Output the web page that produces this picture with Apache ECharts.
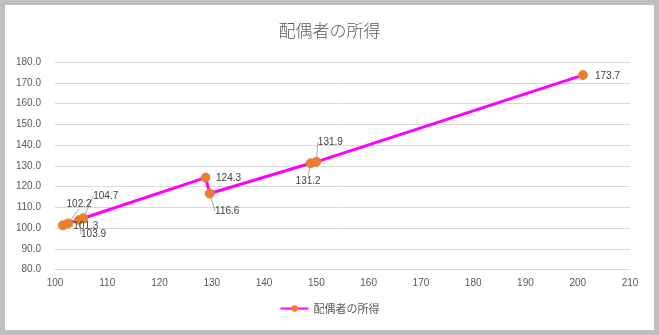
<!DOCTYPE html>
<html><head><meta charset="utf-8">
<script src="https://cdn.jsdelivr.net/npm/echarts@6/dist/echarts.min.js"></script>
<style>
html,body{margin:0;padding:0;background:#bfbfbf;}
#wrap{position:absolute;left:5px;top:5px;width:649px;height:325px;background:#fff;}
#c{position:absolute;left:-5px;top:-5px;width:659px;height:335px;}
</style></head>
<body><div id="wrap"><div id="c"></div></div>
<script>
const titleText = '配偶者の所得';
const seriesName = '配偶者の所得';
const xValues = [101.5, 102.5, 104.6, 105.4, 128.8, 129.6, 148.9, 150.0, 201.0];
const yValues = [101.3, 102.2, 103.9, 104.7, 124.3, 116.6, 131.2, 131.9, 173.7];
const xTicks = {min: 100, max: 210, interval: 10};
const yTicks = {min: 80, max: 180, interval: 10};
// label centre offsets (dx, dy) from the point, and whether a leader line is drawn
const labelShift = [[23, 1], [11, -19.5], [14.5, 14], [22.5, -22], [23, 1], [17.5, 17.5], [-2.5, 17.5], [14, -20], [24.5, 1]];
const leader = [true, true, true, true, false, true, true, true, false];

const chart = echarts.init(document.getElementById('c'), null, {renderer:'canvas'});
const data = xValues.map((x, i) => ({
  value: [x, yValues[i]],
  labelLine: {show: leader[i]}
}));
chart.setOption({
  animation: false,
  title: {text: titleText, left: 'center', top: 17,
    textStyle: {fontFamily: 'Noto Sans CJK JP', fontSize: 17, fontWeight: 300, color: '#595959'}},
  grid: {left: 55, right: 29, top: 62, bottom: 65.5},
  legend: {bottom: 16, left: 'center', itemWidth: 28, itemHeight: 8, itemGap: 2,
    data: [seriesName],
    textStyle: {fontFamily: 'Noto Sans CJK JP', fontSize: 11, color: '#595959'}},
  xAxis: {type: 'value', min: xTicks.min, max: xTicks.max, interval: xTicks.interval,
    axisLine: {show: true, lineStyle: {color: '#d9d9d9'}}, axisTick: {show: false},
    splitLine: {show: false},
    axisLabel: {margin: 9, color: '#595959', fontSize: 10, fontFamily: 'Liberation Sans'}},
  yAxis: {type: 'value', min: yTicks.min, max: yTicks.max, interval: yTicks.interval,
    axisLine: {show: false}, axisTick: {show: false},
    splitLine: {lineStyle: {color: '#d9d9d9'}},
    axisLabel: {margin: 14, color: '#595959', fontSize: 10, fontFamily: 'Liberation Sans',
      formatter: v => v.toFixed(1)}},
  series: [{
    name: seriesName, type: 'line', data: data,
    symbol: 'circle', symbolSize: 9,
    lineStyle: {color: '#ff00ff', width: 3},
    itemStyle: {color: '#ed7d31', borderColor: '#ed7d31'},
    label: {show: true, position: 'inside', color: '#404040', fontSize: 10, fontFamily: 'Liberation Sans',
      formatter: p => p.value[1].toFixed(1)},
    labelLine: {show: true, lineStyle: {color: '#a6a6a6', width: 1}},
    labelLayout: p => {
      const s = labelShift[p.dataIndex];
      return {dx: s[0], dy: s[1]};
    }
  }]
});
</script></body></html>
